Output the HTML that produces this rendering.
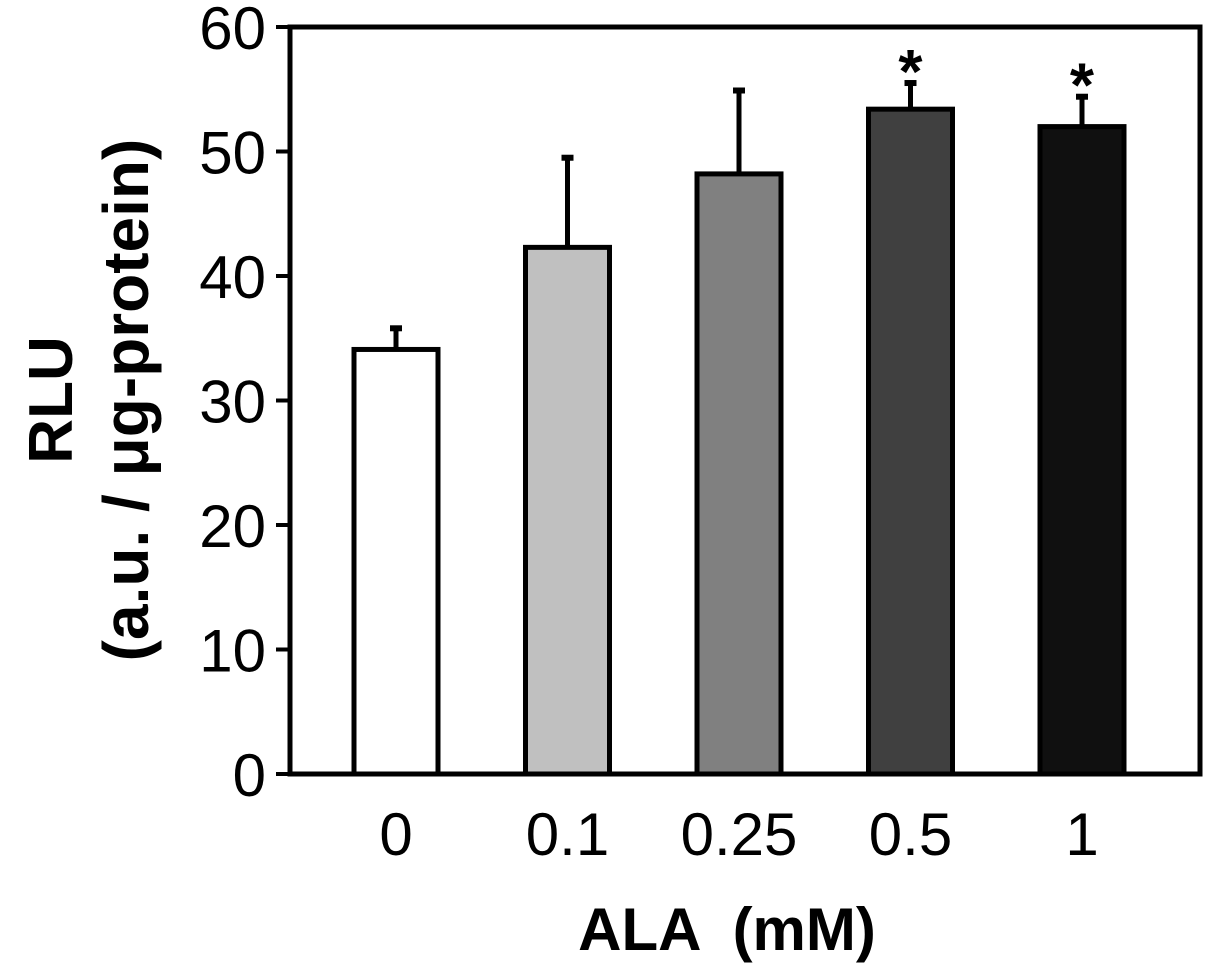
<!DOCTYPE html>
<html><head><meta charset="utf-8"><style>
html,body{margin:0;padding:0;background:#fff;}
svg{display:block;font-family:"Liberation Sans",Arial,sans-serif;}
</style></head><body>
<svg id="chart" width="1205" height="972" viewBox="0 0 1205 972" xmlns="http://www.w3.org/2000/svg">
<g id="plot"></g>
<text x="727" y="950" text-anchor="middle" font-size="60" font-weight="bold" xml:space="preserve" style="white-space:pre">ALA  (mM)</text>
<g transform="translate(72,400) rotate(-90)">
<text x="0" y="0" text-anchor="middle" font-size="62" font-weight="bold">RLU</text>
<text x="0" y="76" text-anchor="middle" font-size="64" font-weight="bold">(a.u. / μg-protein)</text>
</g>
</svg>
<script>
const categories=["0","0.1","0.25","0.5","1"];
const values=[34.1,42.3,48.2,53.4,52.0];
const errors=[1.7,7.2,6.7,2.1,2.4];
const fills=["#ffffff","#c0c0c0","#808080","#404040","#101010"];
const significant=[false,false,false,true,true];
const yTicks=[0,10,20,30,40,50,60];
const NS="http://www.w3.org/2000/svg";
const L=290,R=1200,T=27,B=774,yMax=60;
const y=v=>B-(v/yMax)*(B-T);
const x=i=>396+i*171.5;
const bw=84;
const g=document.getElementById('plot');
function mk(t,a){const e=document.createElementNS(NS,t);for(const k in a)e.setAttribute(k,a[k]);g.appendChild(e);return e;}
categories.forEach((c,i)=>{
  const cx=x(i),top=y(values[i]),et=y(values[i]+errors[i]);
  const l=mk('line',{x1:cx,x2:cx,y1:top,y2:et,stroke:'#000','stroke-width':5});
  
  
  const cap=mk('line',{x1:cx-6,x2:cx+6,y1:et,y2:et,stroke:'#000','stroke-width':6});
  
  
  const r=mk('rect',{x:cx-bw/2,y:top,width:bw,height:B-top,fill:fills[i],stroke:'#000','stroke-width':5});
  
  
  const t=mk('text',{x:cx,y:855,'text-anchor':'middle','font-size':60});
  t.textContent=c;
  
  
  if(significant[i]){
    const s=mk('text',{x:cx,y:et+10,'text-anchor':'middle','font-size':62,'font-weight':'bold'});
    s.textContent='*';
    
    
  }
});
yTicks.forEach(v=>{
  const tk=mk('line',{x1:L-14,x2:L,y1:y(v),y2:y(v),stroke:'#000','stroke-width':4});
  
  
  const t=mk('text',{x:266,y:y(v)+22,'text-anchor':'end','font-size':60});
  t.textContent=v;
  
  
});
const f=mk('rect',{x:L,y:T,width:R-L,height:B-T,fill:'none',stroke:'#000','stroke-width':5});


</script>
</body></html>
